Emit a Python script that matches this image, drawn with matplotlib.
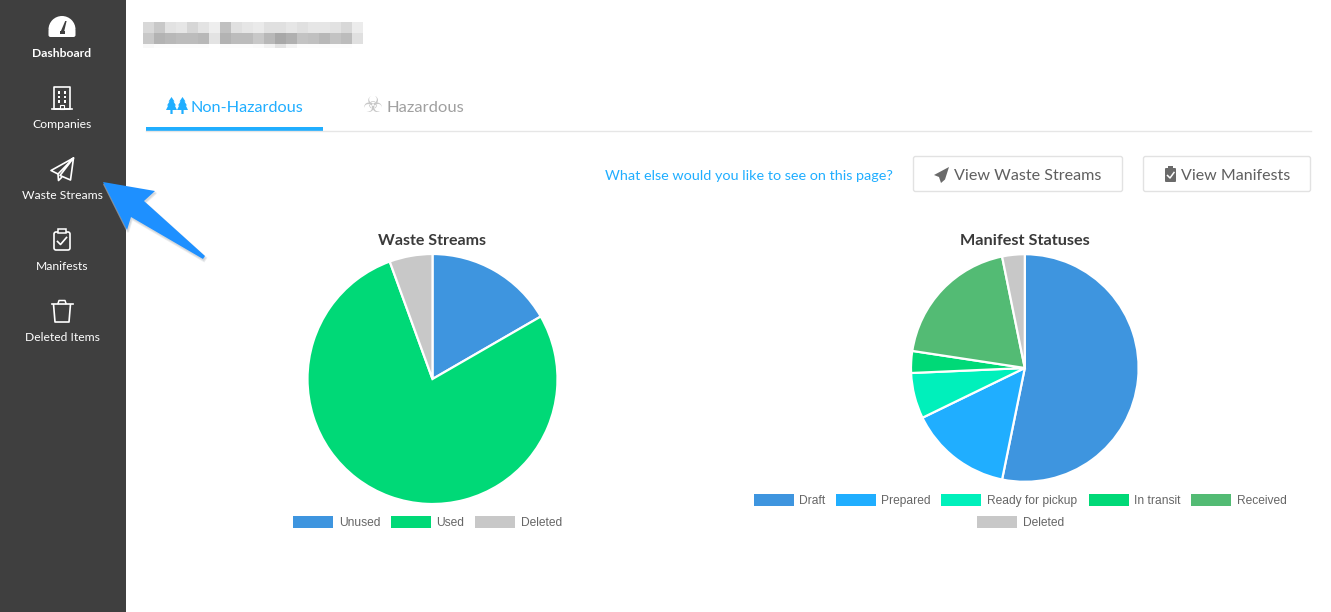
import numpy as np
import matplotlib
matplotlib.use("Agg")
import matplotlib.pyplot as plt
from matplotlib.patches import Polygon, Rectangle, FancyBboxPatch, Wedge

W, H = 1331, 612

# ---- data ----
waste_labels = ["Unused", "Used", "Deleted"]
waste_values = [6, 28, 2]
waste_colors = ["#3e95df", "#00d977", "#c8c8c8"]

manifest_labels = ["Draft", "Prepared", "Ready for pickup", "In transit", "Received", "Deleted"]
manifest_values = [53.2, 14.6, 6.5, 3.1, 19.4, 3.2]
manifest_colors = ["#3e95df", "#20aeff", "#00f0bb", "#00d977", "#53bb74", "#c8c8c8"]

nav_labels = ["Dashboard", "Companies", "Waste Streams", "Manifests", "Deleted Items"]
blur_row1 = [0xd8,0xc8,0xe2,0xe6,0xd6,0xe4,0xee,0xc0,0xe0,0xe6,0xea,0xe0,0xe0,0xe6,0xe0,0xe6,0xe6,0xe2,0xd8,0xec]
blur_row2 = [0xc8,0xb4,0xb8,0xbc,0xbc,0xb8,0xe4,0xb4,0xbc,0xbc,0xc8,0xb8,0xa8,0xb0,0xc4,0xc0,0xb8,0xc4,0xbc,0xe0]
blur_row3 = [0xf8,0xfc,0xfc,0xfc,0xfc,0xfc,0xff,0xfc,0xfc,0xfc,0xfa,0xf2,0xe4,0xf4,0xfc,0xfc,0xfc,0xfc,0xfc,0xff]

UI = "Lato"
LEG = "Liberation Sans"

fig = plt.figure(figsize=(W/100, H/100), dpi=100, facecolor="white")
ax = fig.add_axes([0, 0, 1, 1])
ax.set_xlim(0, W); ax.set_ylim(H, 0); ax.axis("off")

# sidebar
ax.add_patch(Rectangle((0, 0), 126, H, fc="#3f3f3f", ec="none"))
nav_y = [57.3, 128.3, 199.3, 270.3, 341.3]
for i, (lab, y) in enumerate(zip(nav_labels, nav_y)):
    ax.text(62, y, lab, color="white", fontsize=8.7, family=UI,
            fontweight="bold" if i == 0 else "normal", ha="center", va="baseline")

ic = dict(fc="none", ec="white", lw=1.2, joinstyle="round")
# gauge
ax.add_patch(Wedge((62, 29.5), 13.5, 180, 360, fc="white", ec="none"))
ax.add_patch(FancyBboxPatch((48.5, 28.5), 27, 8.5, boxstyle="round,pad=0,rounding_size=2", fc="white", ec="none"))
ax.add_patch(Polygon([(60.5, 32), (65.2, 21), (66.6, 21), (64, 32)], fc="#3f3f3f", ec="none"))
ax.add_patch(Rectangle((59.5, 31), 5.5, 3.2, fc="#3f3f3f", ec="none"))
# building
ax.add_patch(Rectangle((54, 87), 16, 22, **ic))
ax.plot([51.5, 72], [109, 109], color="white", lw=1.2)
for yy in (91, 95.5, 100):
    for xx in (57.8, 63.6):
        ax.add_patch(Rectangle((xx, yy), 2.6, 2.6, fc="white", ec="none"))
ax.add_patch(Rectangle((60, 105), 4, 4, fc="#3f3f3f", ec="white", lw=0.8))
# plane
ax.add_patch(Polygon([(73.5, 158), (51, 170.5), (58, 174), (73.5, 158), (60, 175.5), (70.5, 180)], closed=True, **ic))
ax.add_patch(Polygon([(58, 174), (58.5, 180.5), (62, 177)], closed=False, **ic))
# clipboard
ax.add_patch(FancyBboxPatch((54, 232), 16, 18, boxstyle="round,pad=0,rounding_size=2", **ic))
ax.add_patch(Rectangle((58, 229), 8, 4, fc="#3f3f3f", ec="white", lw=1.1))
ax.plot([57.5, 60.5, 66.5], [241.5, 244.5, 237.5], color="white", lw=1.2)
# trash
ax.add_patch(Polygon([(53.5, 304), (55, 322), (69, 322), (70.5, 304)], closed=False, **ic))
ax.plot([51.5, 72.5], [303.5, 303.5], color="white", lw=1.2)
ax.plot([58, 59, 65, 66], [303.5, 300.5, 300.5, 303.5], color="white", lw=1.1)

# blurred title
blur = np.array([blur_row1, blur_row2, blur_row3]) / 255
ax.imshow(blur[0:1], extent=(143, 363, 33, 22), cmap="gray", vmin=0, vmax=1, interpolation="nearest", aspect="auto", zorder=2)
ax.imshow(blur[1:2], extent=(143, 363, 44, 33), cmap="gray", vmin=0, vmax=1, interpolation="nearest", aspect="auto", zorder=2)
ax.imshow(blur[2:3], extent=(143, 363, 48, 44), cmap="gray", vmin=0, vmax=1, interpolation="nearest", aspect="auto", zorder=2)
ax.set_xlim(0, W); ax.set_ylim(H, 0)

# tabs
BLUE = "#20aeff"
ax.plot([146, 1311], [131, 131], color="#e6e6e6", lw=1.0)
ax.add_patch(Rectangle((146, 127), 177, 4, fc=BLUE, ec="none"))
for x0 in (166, 177):
    ax.add_patch(Polygon([(x0+5.5, 97), (x0+8.5, 101.5), (x0+7.5, 101.5), (x0+10, 105.5), (x0+8.8, 105.5),
                          (x0+11, 110), (x0+6.6, 110), (x0+6.6, 114), (x0+4.4, 114), (x0+4.4, 110), (x0, 110),
                          (x0+2.2, 105.5), (x0+1, 105.5), (x0+3.5, 101.5), (x0+2.5, 101.5)], fc=BLUE, ec="none"))
ax.text(191, 108, "Non-Hazardous", color=BLUE, fontsize=11.7, family=UI, va="center", ha="left")
ax.text(373, 106.5, "\u2623", color="#c8c8c8", fontsize=16, family="DejaVu Sans", va="center", ha="center")
ax.text(387, 108, "Hazardous", color="#a0a0a0", fontsize=11.85, family=UI, va="center", ha="left")

# action row
ax.text(605, 176, "What else would you like to see on this page?", color=BLUE, fontsize=10.4,
        family=UI, va="center", ha="left")
for x0, x1 in ((913.5, 1122.5), (1143.5, 1310.5)):
    ax.add_patch(FancyBboxPatch((x0, 156.5), x1-x0, 35, boxstyle="round,pad=0,rounding_size=2",
                                fc="white", ec="#e2e2e2", lw=1.0))
GR = "#5f5f5f"
ax.add_patch(Polygon([(949, 167), (934, 175), (939, 177), (941, 183), (945, 179.5), (949, 167)],
                     fc="#6a6a6a", ec="none"))
ax.text(954, 175.5, "View Waste Streams", color=GR, fontsize=11.6, family=UI, va="center", ha="left")
ax.add_patch(FancyBboxPatch((1165, 168), 11, 14, boxstyle="round,pad=0,rounding_size=1", fc="#6a6a6a", ec="none"))
ax.add_patch(Rectangle((1168, 166), 5, 3, fc="#6a6a6a", ec="none"))
ax.plot([1167.5, 1170, 1174], [175.5, 178, 172.5], color="white", lw=1.1)
ax.text(1181, 175.5, "View Manifests", color=GR, fontsize=11.55, family=UI, va="center", ha="left")

# arrow
arrow = [(103, 182), (155, 191), (144, 201), (205, 256), (203, 259), (131, 217), (127, 230)]
ax.add_patch(Polygon([(x+1, y+2) for x, y in arrow], fc="#aeb4ba", ec="#d4d8dc", lw=1.5, alpha=0.5, zorder=3))
ax.add_patch(Polygon(arrow, fc="#1e90ff", ec="none", zorder=4))


def pie(cx, cy, r, values, colors):
    a = fig.add_axes([(cx-r)/W, 1-(cy+r)/H, 2*r/W, 2*r/H])
    a.pie(values, colors=colors, startangle=90, counterclock=False, radius=1,
          wedgeprops=dict(edgecolor="white", linewidth=1.6))
    a.set_xlim(-1, 1); a.set_ylim(-1, 1)
    a.set_aspect("equal")
    a.axis("off")


pie(432.5, 379, 125, waste_values, waste_colors)
pie(1024.8, 368, 113.8, manifest_values, manifest_colors)

TITLE = "#3a3a3a"
ax.text(432.5, 241, "Waste Streams", color=TITLE, fontsize=11.55, family=UI, fontweight="bold", ha="center", va="center")
ax.text(1025, 241, "Manifest Statuses", color=TITLE, fontsize=11.7, family=UI, fontweight="bold", ha="center", va="center")


def legend(items, colors, xs, y):
    for lab, c, x in zip(items, colors, xs):
        ax.add_patch(Rectangle((x, y-6), 40, 12, fc=c, ec="none"))
        ax.text(x+46, y+1, lab, color="#666666", fontsize=8.65, family=LEG, ha="left", va="center")


legend(waste_labels, waste_colors, [293, 390.5, 475], 522)
legend(manifest_labels[:5], manifest_colors[:5], [753.5, 835.5, 941, 1088.5, 1191], 500)
legend(manifest_labels[5:], manifest_colors[5:], [976.5], 522)

fig.savefig("out.png", dpi=100)
